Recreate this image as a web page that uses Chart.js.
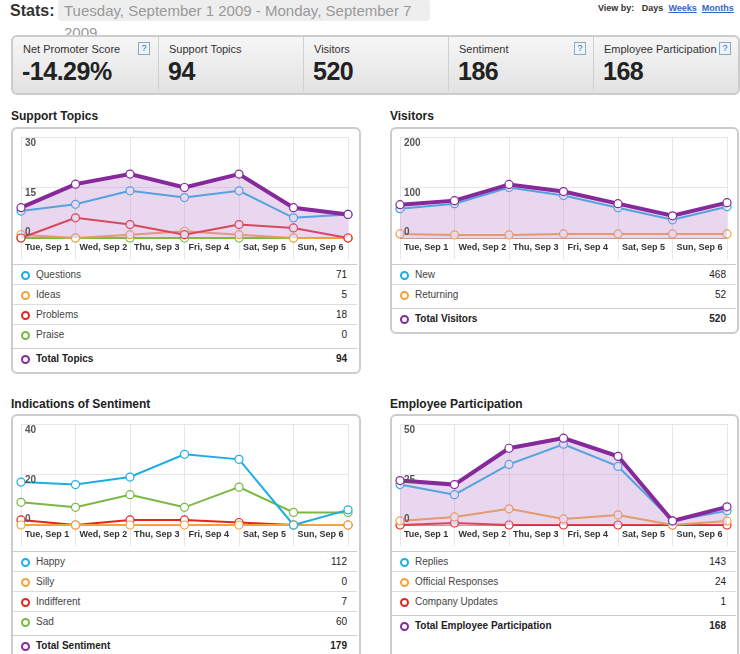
<!DOCTYPE html>
<html><head><meta charset="utf-8">
<script src="https://cdn.jsdelivr.net/npm/chart.js@4/dist/chart.umd.min.js"></script>
<style>
body{margin:0;width:740px;height:654px;font-family:"Liberation Sans",Arial,sans-serif;background:#fff;position:relative;overflow:hidden;color:#222}
.abs{position:absolute}
.box{position:absolute;border:2px solid #ccc;border-radius:6px;background:#fff}
.title{position:absolute;font-weight:bold;font-size:12px}
.stat{position:absolute;top:37px;height:54px}
.stat .l{font-size:11px;color:#333;margin:6px 0 0 10px}
.stat .v{font-size:25px;font-weight:bold;margin:2px 0 0 9px;letter-spacing:-0.5px}
.q{position:absolute;top:5px;width:10px;height:11px;border:1px solid #8ab;background:#eef4fb;color:#36c;font-size:9px;text-align:center;line-height:11px}
.row{position:absolute;font-size:10px;height:20px;line-height:20px;border-top:1px solid #ddd}
.dot{position:absolute;top:6px;width:5px;height:5px;border-radius:50%;border:2px solid;background:#fff}
.row .n{position:absolute;right:10px;top:0}
.row .t{position:absolute;left:23px}
</style></head><body>
<div class="abs" style="left:10px;top:2px;font-size:16px;font-weight:bold;color:#333">Stats:</div>
<div class="abs" style="left:58px;top:0;width:372px;height:21px;background:#eee;border-radius:3px;font-size:15px;color:#999;line-height:22px;padding-left:6px;box-sizing:border-box">Tuesday, September 1 2009 - Monday, September 7 2009</div>
<div class="abs" style="left:598px;top:3px;font-size:9px;font-weight:bold;color:#333">View by: &nbsp;&nbsp;Days &nbsp;<u style="color:#36c">Weeks</u> &nbsp;<u style="color:#36c">Months</u></div>
<div class="abs" style="left:11px;top:35px;width:725px;height:56px;border:2px solid #ccc;border-radius:6px;background:linear-gradient(#f6f6f6,#e2e2e2)"></div>
<div id="stats"></div>
<div class="title" style="left:11px;top:109px">Support Topics</div>
<div class="title" style="left:390px;top:109px">Visitors</div>
<div class="title" style="left:11px;top:397px">Indications of Sentiment</div>
<div class="title" style="left:390px;top:397px">Employee Participation</div>
<div class="box" style="left:11px;top:127px;width:346px;height:243px"></div>
<div class="box" style="left:390px;top:127px;width:345px;height:203px"></div>
<div class="box" style="left:11px;top:414px;width:346px;height:250px"></div>
<div class="box" style="left:390px;top:414px;width:345px;height:250px"></div>
<canvas id="c1" class="abs" style="left:13px;top:129px"></canvas>
<canvas id="c2" class="abs" style="left:392px;top:129px"></canvas>
<canvas id="c3" class="abs" style="left:13px;top:416px"></canvas>
<canvas id="c4" class="abs" style="left:392px;top:416px"></canvas>
<div id="legends"></div>
<script>
const days=["Tue, Sep 1","Wed, Sep 2","Thu, Sep 3","Fri, Sep 4","Sat, Sep 5","Sun, Sep 6",""];
const topicsQuestions=[8,10,14,12,14,6,7];
const topicsIdeas=[1,0,1,2,1,0,0];
const topicsProblems=[0,6,4,1,4,3,0];
const topicsPraise=[0,0,0,0,0,0,0];
const topicsTotal=[9,16,19,15,19,9,7];
const visitorsNew=[58,68,100,84,60,36,62];
const visitorsReturning=[8,6,6,8,8,8,8];
const visitorsTotal=[66,74,106,92,68,44,70];
const sentHappy=[17,16,19,28,26,0,6];
const sentSilly=[0,0,0,0,0,0,0];
const sentIndifferent=[2,0,2,2,1,0,0];
const sentSad=[9,7,12,7,15,5,5];
const empReplies=[20,15,30,40,29,2,7];
const empOfficial=[2,4,8,3,5,0,2];
const empCompany=[0,1,0,0,0,0,0];
const empTotal=[22,20,38,43,34,2,9];
const statLabels=["Net Promoter Score","Support Topics","Visitors","Sentiment","Employee Participation"];
const statValues=["-14.29%","94","520","186","168"];
const statHelp=[true,false,false,true,true];

const C={blue:"#1eaee6",orange:"#f7a13a",red:"#e8231f",green:"#78b843",purple:"#86299a"};
let sh="";
statLabels.forEach((l,i)=>{const x=13+i*145;
 sh+=`<div class="stat" style="left:${x}px;width:145px;${i?'border-left:1px solid #d0d0d0;':''}"><div class="l">${l}</div><div class="v">${statValues[i]}</div>${statHelp[i]?'<div class="q" style="left:125px">?</div>':''}</div>`;});
document.getElementById('stats').innerHTML=sh;

function legend(left,top,items,total){
 let h="";items.forEach((it,i)=>{h+=`<div class="row" style="left:${left}px;top:${top+i*20}px;width:344px;${i==0?'border-top:1px solid #ccc;':''}"><div class="dot" style="left:8px;border-color:${it[1]}"></div><span class="t" style="color:#444">${it[0]}</span><span class="n">${it[2]}</span></div>`;});
 const ty=top+items.length*20+4;
 h+=`<div class="row" style="left:${left}px;top:${ty}px;width:344px;font-weight:bold;border-top:1px solid #ccc"><div class="dot" style="left:8px;border-color:${C.purple}"></div><span class="t">${total[0]}</span><span class="n">${total[1]}</span></div>`;
 return h;}
const s=a=>a.reduce((x,y)=>x+y,0);
document.getElementById('legends').innerHTML=
 legend(13,264,[["Questions",C.blue,s(topicsQuestions)],["Ideas",C.orange,s(topicsIdeas)],["Problems",C.red,s(topicsProblems)],["Praise",C.green,s(topicsPraise)]],["Total Topics",s(topicsTotal)])+
 legend(392,264,[["New",C.blue,s(visitorsNew)],["Returning",C.orange,s(visitorsReturning)]],["Total Visitors",s(visitorsTotal)])+
 legend(13,551,[["Happy",C.blue,s(sentHappy)],["Silly",C.orange,s(sentSilly)],["Indifferent",C.red,s(sentIndifferent)],["Sad",C.green,s(sentSad)]],["Total Sentiment",s(sentHappy)+s(sentSilly)+s(sentIndifferent)+s(sentSad)])+
 legend(392,551,[["Replies",C.blue,s(empReplies)],["Official Responses",C.orange,s(empOfficial)],["Company Updates",C.red,s(empCompany)]],["Total Employee Participation",s(empTotal)]);

const labelPlugin={id:'lbl',afterDraw(ch){const c=ch.ctx,x=ch.scales.x,y=ch.scales.y;c.save();
 c.font="bold 9px 'Liberation Sans',Arial";c.fillStyle="#333";c.textBaseline="top";
 days.forEach((d,i)=>c.fillText(d,x.getPixelForValue(i)+4,y.bottom+5));
 c.font="bold 10px 'Liberation Sans',Arial";c.fillStyle="#555";c.textBaseline="middle";
 y.ticks.forEach(t=>{const p=y.getPixelForValue(t.value);c.fillText(t.value,12,t.value==0?p-6:p+6);});
 c.restore();}};
function ds(data,color,fill,w){return{data,borderColor:color,backgroundColor:fill?"rgba(190,140,205,0.35)":color,fill:fill?'origin':false,borderWidth:w||2,pointRadius:4,pointBackgroundColor:"#fff",pointBorderColor:color,pointBorderWidth:1.2,tension:0,clip:false};}
function mk(id,sets,max,step){const cv=document.getElementById(id);cv.width=345;cv.height=130;
 new Chart(cv,{type:'line',data:{labels:days,datasets:sets},plugins:[labelPlugin],
 options:{responsive:false,animation:false,layout:{padding:{left:8,right:10,top:8,bottom:0}},
 plugins:{legend:{display:false},tooltip:{enabled:false}},
 scales:{x:{offset:false,grid:{color:"#e6e6e6",drawTicks:true,tickLength:21},border:{display:false},ticks:{display:false}},
 y:{min:0,max:max,ticks:{stepSize:step,display:false},grid:{color:c=>c.tick.value==0?"#c89a9a":"#e6e6e6",drawTicks:false},border:{display:false}}}}});}
mk('c1',[ds(topicsTotal,C.purple,true,4),ds(topicsQuestions,C.blue),ds(topicsProblems,C.red),ds(topicsIdeas,C.orange),ds(topicsPraise,C.green)],30,15);
mk('c2',[ds(visitorsTotal,C.purple,true,4),ds(visitorsNew,C.blue),ds(visitorsReturning,C.orange)],200,100);
mk('c3',[ds(sentHappy,C.blue),ds(sentSad,C.green),ds(sentSilly,C.orange),ds(sentIndifferent,C.red)],40,20);
mk('c4',[ds(empTotal,C.purple,true,4),ds(empReplies,C.blue),ds(empOfficial,C.orange),ds(empCompany,C.red)],50,25);
</script></body></html>
